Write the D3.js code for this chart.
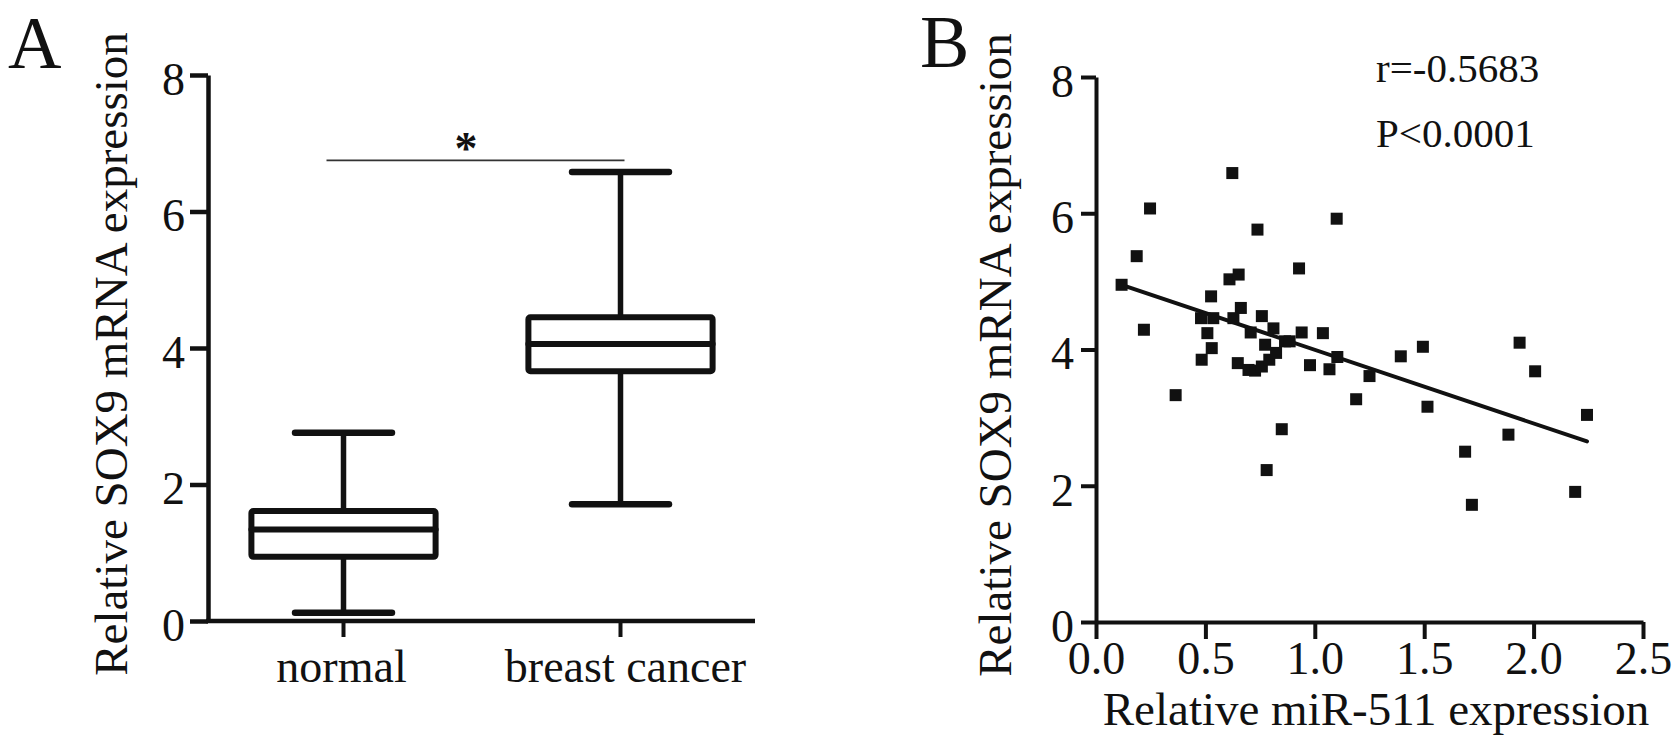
<!DOCTYPE html>
<html>
<head>
<meta charset="utf-8">
<script src="https://cdn.jsdelivr.net/npm/d3@7/dist/d3.min.js"></script>
<style>
  html, body { margin: 0; padding: 0; background: #fff; }
  svg { display: block; }
  text { font-family: "Liberation Serif", "Times New Roman", serif; fill: #111; }
</style>
</head>
<body>
<svg id="chart" width="1677" height="738"></svg>
<script>
// ---------- data ----------
const boxCategories = ["normal", "breast cancer"];
const boxMin    = [0.12, 1.71];
const boxQ1     = [0.94, 3.66];
const boxMedian = [1.34, 4.06];
const boxQ3     = [1.61, 4.45];
const boxMax    = [2.76, 6.58];
const sigLevel  = 6.75;
const sigLabel  = "*";

const yTickValues  = [0, 2, 4, 6, 8];
const xTickValuesB = [0.0, 0.5, 1.0, 1.5, 2.0, 2.5];

const mirX = [0.117, 0.186, 0.247, 0.219, 0.364, 0.623, 0.738, 0.928, 0.526, 0.610,
              0.652, 0.480, 0.536, 0.509, 0.529, 0.483, 0.662, 0.628, 0.707, 0.758,
              0.811, 0.773, 0.864, 0.885, 0.648, 0.697, 0.727, 0.758, 0.792, 0.823,
              0.849, 0.780, 0.940, 0.978, 1.037, 1.067, 1.103, 1.250, 1.189, 1.393,
              1.494, 1.515, 1.687, 1.718, 1.936, 2.007, 1.885, 2.244, 2.190, 1.100];
const soxY = [4.95, 5.37, 6.07, 4.29, 3.33, 6.59, 5.76, 5.19, 4.78, 5.03,
              5.10, 4.46, 4.46, 4.24, 4.02, 3.85, 4.61, 4.46, 4.25, 4.49,
              4.31, 4.07, 4.12, 4.12, 3.80, 3.70, 3.69, 3.75, 3.85, 3.95,
              2.83, 2.23, 4.25, 3.77, 4.24, 3.71, 3.89, 3.61, 3.27, 3.90,
              4.04, 3.16, 2.50, 1.72, 4.10, 3.68, 2.75, 3.04, 1.91, 5.92];
const fitX = [0.117, 2.244];
const fitY = [4.95, 2.65];
const statLines = ["r=-0.5683", "P<0.0001"];

// ---------- drawing ----------
const svg = d3.select("#chart");
const ink = "#111";
const FS = 46;

// ===== Panel A =====
const gA = svg.append("g");
const yA = d3.scaleLinear().domain([0, 8]).range([621, 75]);
const xA = d3.scaleBand().domain(boxCategories).range([205, 759]);

gA.append("text").attr("x", 8).attr("y", 68).style("font-size", "74px").text("A");

const axA = gA.append("g").attr("transform", "translate(208,0)")
  .call(d3.axisLeft(yA).tickValues(yTickValues).tickSize(18).tickPadding(5).tickSizeOuter(0).tickFormat(d3.format("d")));
axA.selectAll("path,line").attr("stroke", ink).attr("stroke-width", 4.5);
axA.selectAll("text").style("font-size", FS + "px").attr("dy", "0.42em").style("font-family", null);

const axAx = gA.append("g").attr("transform", "translate(0,621)")
  .call(d3.axisBottom(xA).tickSize(16).tickPadding(12).tickSizeOuter(0));
axAx.select(".domain").remove();
axAx.selectAll("line").attr("stroke", ink).attr("stroke-width", 4);
axAx.selectAll("text").style("font-size", FS + "px").attr("dy", "0.72em")
  .attr("dx", (d, i) => i === 1 ? 5 : -2).style("font-family", null);
gA.append("line").attr("x1", 206).attr("x2", 755).attr("y1", 621).attr("y2", 621)
  .attr("stroke", ink).attr("stroke-width", 4.5);

gA.append("text")
  .attr("transform", "translate(127,354) rotate(-90)")
  .attr("text-anchor", "middle").style("font-size", "47px")
  .text("Relative SOX9 mRNA expression");

const bw = xA.bandwidth();
boxCategories.forEach((c, i) => {
  const cx = xA(c) + bw / 2;
  const g = gA.append("g").attr("stroke", ink).attr("fill", "none").attr("stroke-linecap", "round").attr("stroke-linejoin", "round");
  // whiskers
  g.append("line").attr("x1", cx).attr("x2", cx).attr("y1", yA(boxMax[i])).attr("y2", yA(boxQ3[i])).attr("stroke-width", 5.5);
  g.append("line").attr("x1", cx).attr("x2", cx).attr("y1", yA(boxQ1[i])).attr("y2", yA(boxMin[i])).attr("stroke-width", 5.5);
  // caps
  const cw = bw * 0.35;
  [boxMax[i], boxMin[i]].forEach(v => {
    g.append("line").attr("x1", cx - cw / 2).attr("x2", cx + cw / 2).attr("y1", yA(v)).attr("y2", yA(v)).attr("stroke-width", 6.5);
  });
  // box
  const bxw = bw * 0.665;
  g.append("rect").attr("x", cx - bxw / 2).attr("width", bxw)
    .attr("y", yA(boxQ3[i])).attr("height", yA(boxQ1[i]) - yA(boxQ3[i]))
    .attr("fill", "#fff").attr("stroke-width", 6).attr("rx", 2);
  g.append("line").attr("x1", cx - bxw / 2).attr("x2", cx + bxw / 2)
    .attr("y1", yA(boxMedian[i])).attr("y2", yA(boxMedian[i])).attr("stroke-width", 6);
});

// significance bar
const c0 = xA(boxCategories[0]) + bw / 2, c1 = xA(boxCategories[1]) + bw / 2;
gA.append("line").attr("x1", c0 - 17).attr("x2", c1 + 4)
  .attr("y1", yA(sigLevel)).attr("y2", yA(sigLevel)).attr("stroke", "#333").attr("stroke-width", 1.8);
gA.append("text").attr("x", 466).attr("y", yA(sigLevel) + 4)
  .attr("text-anchor", "middle").style("font-size", "46px").style("font-weight", "bold").text(sigLabel);

// ===== Panel B =====
const gB = svg.append("g");
const yB = d3.scaleLinear().domain([0, 8]).range([622, 77]);
const xB = d3.scaleLinear().domain([0, 2.5]).range([1096, 1643]);

gB.append("text").attr("x", 920).attr("y", 67).style("font-size", "74px").text("B");

const axB = gB.append("g").attr("transform", "translate(1096,0)")
  .call(d3.axisLeft(yB).tickValues(yTickValues).tickSize(15).tickPadding(7).tickSizeOuter(0).tickFormat(d3.format("d")));
axB.selectAll("path,line").attr("stroke", ink).attr("stroke-width", 4);
axB.selectAll("text").style("font-size", FS + "px").attr("dy", "0.42em").style("font-family", null);

const axBx = gB.append("g").attr("transform", "translate(0,622)")
  .call(d3.axisBottom(xB).tickValues(xTickValuesB).tickSize(17).tickPadding(2).tickSizeOuter(0).tickFormat(d3.format(".1f")));
axBx.selectAll("path,line").attr("stroke", ink).attr("stroke-width", 4);
axBx.selectAll("text").style("font-size", FS + "px").attr("dy", "0.72em").style("font-family", null);

gB.append("text")
  .attr("transform", "translate(1011,355) rotate(-90)")
  .attr("text-anchor", "middle").style("font-size", "47px")
  .text("Relative SOX9 mRNA expression");
gB.append("text").attr("x", 1376).attr("y", 725)
  .attr("text-anchor", "middle").style("font-size", "47px")
  .text("Relative miR-511 expression");

// fit line
gB.append("line")
  .attr("x1", xB(fitX[0])).attr("y1", yB(fitY[0]))
  .attr("x2", xB(fitX[1])).attr("y2", yB(fitY[1]))
  .attr("stroke", ink).attr("stroke-width", 4).attr("stroke-linecap", "round");

// points
const ms = 12;
gB.append("g").selectAll("rect").data(mirX.map((x, i) => [x, soxY[i]])).join("rect")
  .attr("x", d => xB(d[0]) - ms / 2).attr("y", d => yB(d[1]) - ms / 2)
  .attr("width", ms).attr("height", ms).attr("fill", ink);

// stats
statLines.forEach((s, i) => {
  gB.append("text").attr("x", 1376).attr("y", 82 + i * 65).style("font-size", "41px").text(s);
});
</script>
</body>
</html>
